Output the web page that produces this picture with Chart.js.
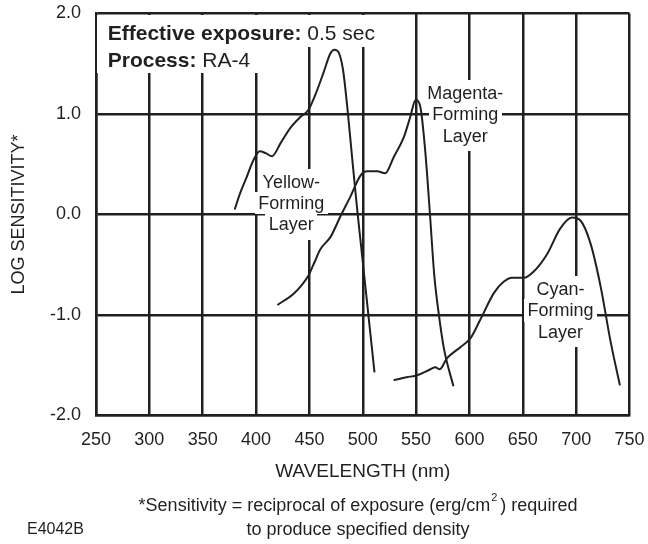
<!DOCTYPE html>
<html><head><meta charset="utf-8">
<script src="https://cdn.jsdelivr.net/npm/chart.js@4/dist/chart.umd.min.js"></script>
<style>html,body{margin:0;padding:0;background:#fff;}canvas{display:block;}</style>
</head><body>
<canvas id="c" width="648" height="544"></canvas>
<script>
// ---- data ----
const xTickValues = [250, 300, 350, 400, 450, 500, 550, 600, 650, 700, 750];
const yTickValues = [-2, -1, 0, 1, 2];

const yellowWavelength = [380, 385, 391.5, 397.5, 403.5, 409, 415, 423, 432, 441.5, 449, 455.5, 463.5, 469.5, 473.5, 477.5, 481.5, 485.5, 490, 494.5, 498, 501, 506, 511];
const yellowLogSens    = [0.05, 0.21, 0.38, 0.54, 0.63, 0.61, 0.58, 0.71, 0.86, 0.97, 1.04, 1.19, 1.42, 1.60, 1.64, 1.61, 1.44, 1.07, 0.57, 0.08, -0.27, -0.57, -1.07, -1.57];

const magentaWavelength = [420, 435, 443, 449, 455, 460, 470, 479, 488.5, 498, 504, 513.5, 521, 529, 538.5, 544.5, 549.5, 554, 558.5, 563, 567, 571, 576, 585];
const magentaLogSens    = [-0.90, -0.79, -0.70, -0.61, -0.47, -0.35, -0.22, -0.02, 0.18, 0.39, 0.43, 0.43, 0.41, 0.57, 0.77, 0.97, 1.14, 1.07, 0.64, 0.0, -0.60, -0.97, -1.33, -1.71];

const cyanWavelength = [529, 541, 551, 563.5, 568, 572, 579, 591.5, 601, 610, 623, 632, 640, 651, 660, 673, 685, 696, 704, 713.5, 723, 732, 741];
const cyanLogSens    = [-1.65, -1.62, -1.60, -1.54, -1.52, -1.54, -1.43, -1.32, -1.23, -1.05, -0.78, -0.67, -0.63, -0.63, -0.57, -0.39, -0.14, -0.03, -0.06, -0.29, -0.72, -1.25, -1.70];

const yellowLabel  = ['Yellow-', 'Forming', 'Layer'];
const magentaLabel = ['Magenta-', 'Forming', 'Layer'];
const cyanLabel    = ['Cyan-', 'Forming', 'Layer'];
const infoBold     = ['Effective exposure:', 'Process:'];
const infoValue    = [' 0.5 sec', ' RA-4'];
const xTitle = 'WAVELENGTH (nm)';
const yTitle = 'LOG SENSITIVITY*';
const footA = '*Sensitivity = reciprocal of exposure (erg/cm';
const footSup = '2';
const footB = ') required';
const footLine2 = 'to produce specified density';
const figId = 'E4042B';

// ---- styling / placement ----
const INK = '#231f20';
const FONT = '"Liberation Sans", Arial, Helvetica, sans-serif';
const labelAnchors = [
  { lines: yellowLabel,  x: 433,   y: 0.325 },
  { lines: magentaLabel, x: 596,   y: 1.207 },
  { lines: cyanLabel,    x: 685.3, y: -0.742 }
];
const infoAnchor = { x: 261, y: 1.804 };

function toPoints(xs, ys) { return xs.map((v, i) => ({ x: v, y: ys[i] })); }

function whiteRect(ctx, x0, y0, x1, y1) {
  const l = Math.floor(x0), t = Math.floor(y0), r = Math.ceil(x1), b = Math.ceil(y1);
  ctx.fillRect(l, t, r - l, b - t);
}

const annotPlugin = {
  id: 'annot',
  beforeDatasetsDraw(chart) {
    const { ctx, scales: { x, y }, chartArea } = chart;
    const LINE = 21.3;
    ctx.save();
    ctx.font = '18px ' + FONT;
    ctx.textAlign = 'center';
    ctx.textBaseline = 'middle';
    // white boxes
    ctx.fillStyle = '#fff';
    for (const lab of labelAnchors) {
      const cx = x.getPixelForValue(lab.x);
      const cy0 = y.getPixelForValue(lab.y);
      lab.lines.forEach((t, i) => {
        const w = ctx.measureText(t).width;
        const cy = cy0 + i * LINE;
        const top = cy - LINE / 2 - (i === 0 ? 2 : 0);
        const bot = cy + LINE / 2 + (i === lab.lines.length - 1 ? 4 : 0);
        whiteRect(ctx, cx - w / 2 - 3, top, cx + w / 2 + 3, bot);
      });
    }
    // info box
    const ix = x.getPixelForValue(infoAnchor.x);
    const iy = y.getPixelForValue(infoAnchor.y);
    const ILINE = 27;
    const IFS = 21;
    const widths = infoBold.map((b, i) => {
      ctx.font = 'bold ' + IFS + 'px ' + FONT;
      const wb = ctx.measureText(b).width;
      ctx.font = IFS + 'px ' + FONT;
      return wb + ctx.measureText(infoValue[i]).width;
    });
    const boxTop = chartArea.top + 1.5;
    const mid = iy + 13.5;
    const boxBot = iy + ILINE + 12;
    whiteRect(ctx, chartArea.left + 1.5, boxTop, ix + widths[0] + 4, mid);
    whiteRect(ctx, chartArea.left + 1.5, mid - 1, ix + widths[1] + 10, boxBot);
    // texts
    ctx.fillStyle = INK;
    ctx.font = '18px ' + FONT;
    for (const lab of labelAnchors) {
      const cx = x.getPixelForValue(lab.x);
      const cy0 = y.getPixelForValue(lab.y);
      lab.lines.forEach((t, i) => ctx.fillText(t, cx, cy0 + i * LINE + 1));
    }
    ctx.textAlign = 'left';
    infoBold.forEach((b, i) => {
      const cy = iy + i * ILINE + 1;
      ctx.font = 'bold ' + IFS + 'px ' + FONT;
      ctx.fillText(b, ix, cy);
      const wb = ctx.measureText(b).width;
      ctx.font = IFS + 'px ' + FONT;
      ctx.fillText(infoValue[i], ix + wb, cy);
    });
    ctx.restore();
  },
  afterDraw(chart) {
    const { ctx } = chart;
    ctx.save();
    ctx.fillStyle = INK;
    ctx.textBaseline = 'middle';
    ctx.textAlign = 'left';
    ctx.font = '18px ' + FONT;
    const wA = ctx.measureText(footA).width;
    const wB = ctx.measureText(footB).width;
    ctx.font = '11px ' + FONT;
    const wS = ctx.measureText(footSup).width;
    const gap = 4;
    const total = wA + wS + gap + wB;
    const cx = 358;
    let sx = cx - total / 2;
    ctx.font = '18px ' + FONT;
    ctx.fillText(footA, sx, 506);
    ctx.font = '11px ' + FONT;
    ctx.fillText(footSup, sx + wA + 1, 498);
    ctx.font = '18px ' + FONT;
    ctx.fillText(footB, sx + wA + wS + gap, 506);
    ctx.textAlign = 'center';
    ctx.fillText(footLine2, cx, 530);
    ctx.textAlign = 'left';
    ctx.font = '16px ' + FONT;
    ctx.fillText(figId, 27, 530);
    ctx.restore();
  }
};

const lineStyle = {
  borderColor: INK, borderWidth: 2, pointRadius: 0, fill: false,
  cubicInterpolationMode: 'monotone'
};

new Chart(document.getElementById('c'), {
  type: 'line',
  data: {
    datasets: [
      Object.assign({ label: 'Yellow-Forming Layer',  data: toPoints(yellowWavelength, yellowLogSens) }, lineStyle),
      Object.assign({ label: 'Magenta-Forming Layer', data: toPoints(magentaWavelength, magentaLogSens) }, lineStyle),
      Object.assign({ label: 'Cyan-Forming Layer',    data: toPoints(cyanWavelength, cyanLogSens) }, lineStyle)
    ]
  },
  options: {
    responsive: false,
    animation: false,
    layout: { padding: { left: 8, right: 18.5, top: 13.5, bottom: 60.5 } },
    plugins: { legend: { display: false }, tooltip: { enabled: false } },
    scales: {
      x: {
        type: 'linear', min: 250, max: 750,
        afterBuildTicks: s => { s.ticks = xTickValues.map(v => ({ value: v })); },
        afterFit: s => { s.height = 68; s.paddingLeft = 0; s.paddingRight = 0; },
        ticks: { color: INK, font: { family: FONT, size: 18 }, padding: 14, maxRotation: 0, autoSkip: false },
        grid: { color: INK, lineWidth: 2.5, drawTicks: false },
        border: { display: true, color: INK, width: 2.5 },
        title: { display: true, text: xTitle, color: INK, font: { family: FONT, size: 19 }, padding: 0 }
      },
      y: {
        type: 'linear', min: -2, max: 2,
        afterBuildTicks: s => { s.ticks = yTickValues.map(v => ({ value: v })); },
        afterFit: s => { s.width = 88; s.paddingTop = 0; s.paddingBottom = 0; },
        ticks: { color: INK, font: { family: FONT, size: 18 }, padding: 15, callback: v => v.toFixed(1) },
        grid: { color: INK, lineWidth: 2.5, drawTicks: false },
        border: { display: true, color: INK, width: 2.5 },
        title: { display: true, text: yTitle, color: INK, font: { family: FONT, size: 18 }, padding: 0 }
      }
    }
  },
  plugins: [annotPlugin]
});
</script>
</body></html>
